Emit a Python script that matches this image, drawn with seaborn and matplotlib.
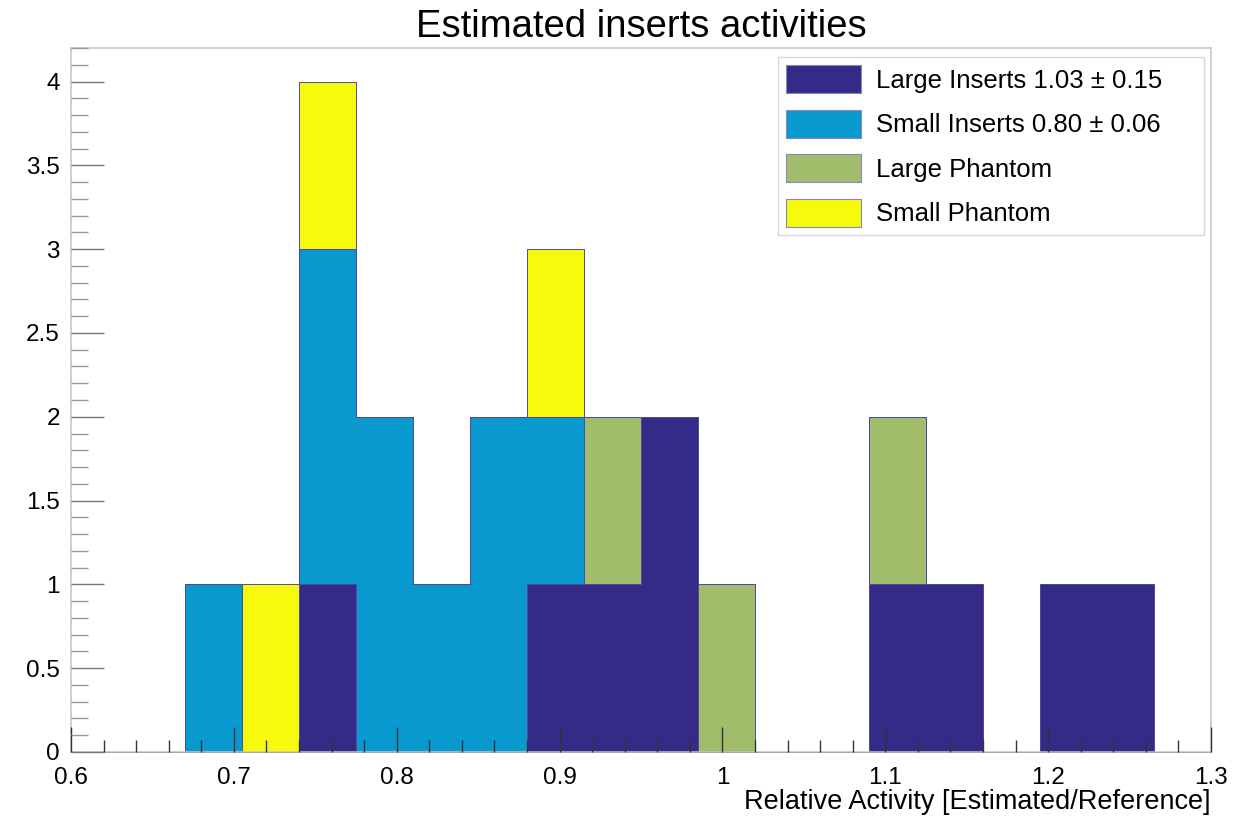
import numpy as np
import pandas as pd
import matplotlib
matplotlib.use("Agg")
import matplotlib.pyplot as plt
from matplotlib.patches import Patch
from matplotlib.ticker import MultipleLocator
import seaborn as sns

# bin centres (20 bins from 0.6 to 1.3)
large_inserts = [0.7575, 0.8975, 0.9325, 0.9675, 0.9675, 1.1075, 1.1425, 1.2125, 1.2475]
small_inserts = [0.6875, 0.7575, 0.7575, 0.7925, 0.7925, 0.8275, 0.8625, 0.8625, 0.8975]
large_phantom = [0.9325, 1.0025, 1.1075]
small_phantom = [0.7225, 0.7575, 0.8975]

groups = ['Large Inserts', 'Small Inserts', 'Large Phantom', 'Small Phantom']
legend_labels = ['Large Inserts 1.03 \u00b1 0.15', 'Small Inserts 0.80 \u00b1 0.06',
                 'Large Phantom', 'Small Phantom']
colors = ['#352a87', '#0a99cf', '#a1bd6c', '#f8fa0d']

bin_lo, bin_hi, n_bins = 0.6, 1.3, 20

# long format table for seaborn
df = pd.concat([
    pd.DataFrame({'activity': vals, 'group': name})
    for name, vals in zip(groups, [large_inserts, small_inserts, large_phantom, small_phantom])
], ignore_index=True)

sns.set_style('white')
plt.rcParams['font.family'] = ['Liberation Sans', 'DejaVu Sans']
plt.rcParams['text.color'] = 'black'
plt.rcParams['axes.labelcolor'] = 'black'

fig = plt.figure(figsize=(12.41, 8.16), dpi=100)
ax = fig.add_axes([71 / 1241, 1 - 752 / 816, 1140 / 1241, 704 / 816])

# seaborn puts the first hue level on top of the stack, so reverse it
sns.histplot(data=df, x='activity', hue='group', hue_order=groups[::-1],
             palette=dict(zip(groups, colors)), multiple='stack', element='step',
             bins=np.linspace(bin_lo, bin_hi, n_bins + 1), alpha=1,
             edgecolor='#4b4b9c', linewidth=0.7, legend=False, ax=ax)

ax.set_axisbelow(False)  # ticks drawn over the bars like in ROOT
ax.set_xlim(0.6, 1.3)
ax.set_ylim(0, 4.2)
ax.xaxis.set_major_locator(MultipleLocator(0.1))
ax.xaxis.set_minor_locator(MultipleLocator(0.02))
ax.yaxis.set_major_locator(MultipleLocator(0.5))
ax.yaxis.set_minor_locator(MultipleLocator(0.1))
ax.xaxis.set_major_formatter(plt.FuncFormatter(lambda v, p: f'{round(v, 2):g}'))
ax.yaxis.set_major_formatter(plt.FuncFormatter(lambda v, p: f'{round(v, 2):g}'))

ax.tick_params(axis='x', which='major', direction='in', length=18, width=1, color='#333333',
               labelsize=17.5, labelcolor='black', pad=11, bottom=True, top=False)
ax.tick_params(axis='x', which='minor', direction='in', length=9, width=1, color='#333333',
               bottom=True, top=False)
ax.tick_params(axis='y', which='major', direction='in', length=24, width=1, color='#777777',
               labelsize=17.5, labelcolor='black', pad=8, left=True, right=False)
ax.tick_params(axis='y', which='minor', direction='in', length=12, width=1, color='#999999',
               left=True, right=False)
for s in ax.spines.values():
    s.set_color('#c4c4c4')
    s.set_linewidth(1.1)

ax.set_ylabel('')
ax.set_xlabel('Relative Activity [Estimated/Reference]', fontsize=19.5, loc='right')
ax.xaxis.set_label_coords(1.0, -(789 - 752) / 704)
ax.set_title('Estimated inserts activities', fontsize=27.5, pad=8)

handles = [Patch(facecolor=c, edgecolor='#8888bb', linewidth=0.8) for c in colors]
leg = ax.legend(handles, legend_labels, loc='upper right',
                bbox_to_anchor=(0.620, 0.736, 0.374, 0.251), mode='expand',
                borderaxespad=0, fontsize=18.5, frameon=True, fancybox=False,
                handlelength=2.9, handleheight=1.3, labelspacing=0.64,
                handletextpad=0.6, borderpad=0.32)
leg.get_frame().set_edgecolor('#cccccc')
leg.get_frame().set_linewidth(1)

fig.savefig('out.png', dpi=100)
